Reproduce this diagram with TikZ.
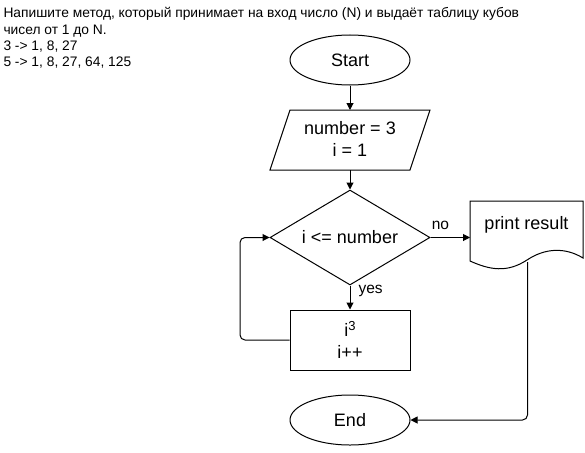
\documentclass[tikz,border=0pt]{standalone}
\usepackage{fontspec}
\setmainfont{Liberation Sans}
\usetikzlibrary{arrows.meta,shapes.geometric}
\begin{document}
\begin{tikzpicture}[x=1pt,y=-1pt,
  line width=1pt,
  conn/.style={draw, -{Triangle[length=7pt,width=7pt]}},
  lbl/.style={font=\fontsize{18}{21}\selectfont, align=center},
  small/.style={font=\fontsize{15.5}{17}\selectfont, inner sep=0pt},
  term/.style={ellipse, draw, minimum width=120pt, minimum height=50pt, inner sep=0pt, lbl},
  dec/.style={diamond, draw, minimum width=160pt, minimum height=95pt, aspect=1.68, inner sep=0pt, lbl},
  proc/.style={rectangle, draw, minimum width=120pt, minimum height=60pt, inner sep=0pt, lbl},
  ghost/.style={rectangle, minimum width=140pt, minimum height=60pt, inner sep=0pt, lbl}
]
\useasboundingbox (0,0) rectangle (585,452);
\fill[white] (0,0) rectangle (585,452);

\node[anchor=north west, align=left, inner sep=0pt, font=\fontsize{13.8}{16.4}\selectfont] (task) at (3,7)
  {Напишите метод, который принимает на вход число (N) и выдаёт таблицу кубов\\
   чисел от 1 до N.\\
   3 -> 1, 8, 27\\
   5 -> 1, 8, 27, 64, 125};

\node[term] (start) at (350,60) {Start};

\node[ghost] (inp) at (350,139) {number = 3\\[1pt]i = 1};
\draw (290,110) -- (430,110) -- (410,170) -- (270,170) -- cycle;

\node[dec] (cond) at (350,237.5) {i <= number};

\node[proc] (body) at (350,340) {i\raisebox{6pt}{\fontsize{13}{13}\selectfont 3}\\[1pt]i++};

\node[term] (end) at (350,420) {End};

\node[rectangle, minimum width=113pt, minimum height=40pt, inner sep=0pt, lbl] (pr) at (526.5,225) {print result};
\draw (470,201) -- (583,201) -- (583,258)
  .. controls (565,247) and (545,248) .. (527,260)
  .. controls (507,273) and (490,270) .. (470,261) -- cycle;
\coordinate (prb) at (527.5,262);
\coordinate (prl) at (470,237.5);

\draw[conn] (start.south) -- (350,110);
\draw[conn] (350,170) -- (cond.north);
\draw[conn] (cond.south) -- node[small, anchor=west, pos=0.22, xshift=8pt] {yes} (body.north);
\draw[conn] (body.west) -- (245,340) to[out=180,in=270] (240,335) -- (240,242.5) to[out=90,in=180] (245,237.5) -- (cond.west);
\draw[conn] (cond.east) -- node[small, above, yshift=7pt, pos=0.25] {no} (prl);
\draw[conn] (prb) -- (527.5,415) to[out=270,in=0] (522.5,420) -- (end.east);
\end{tikzpicture}
\end{document}
